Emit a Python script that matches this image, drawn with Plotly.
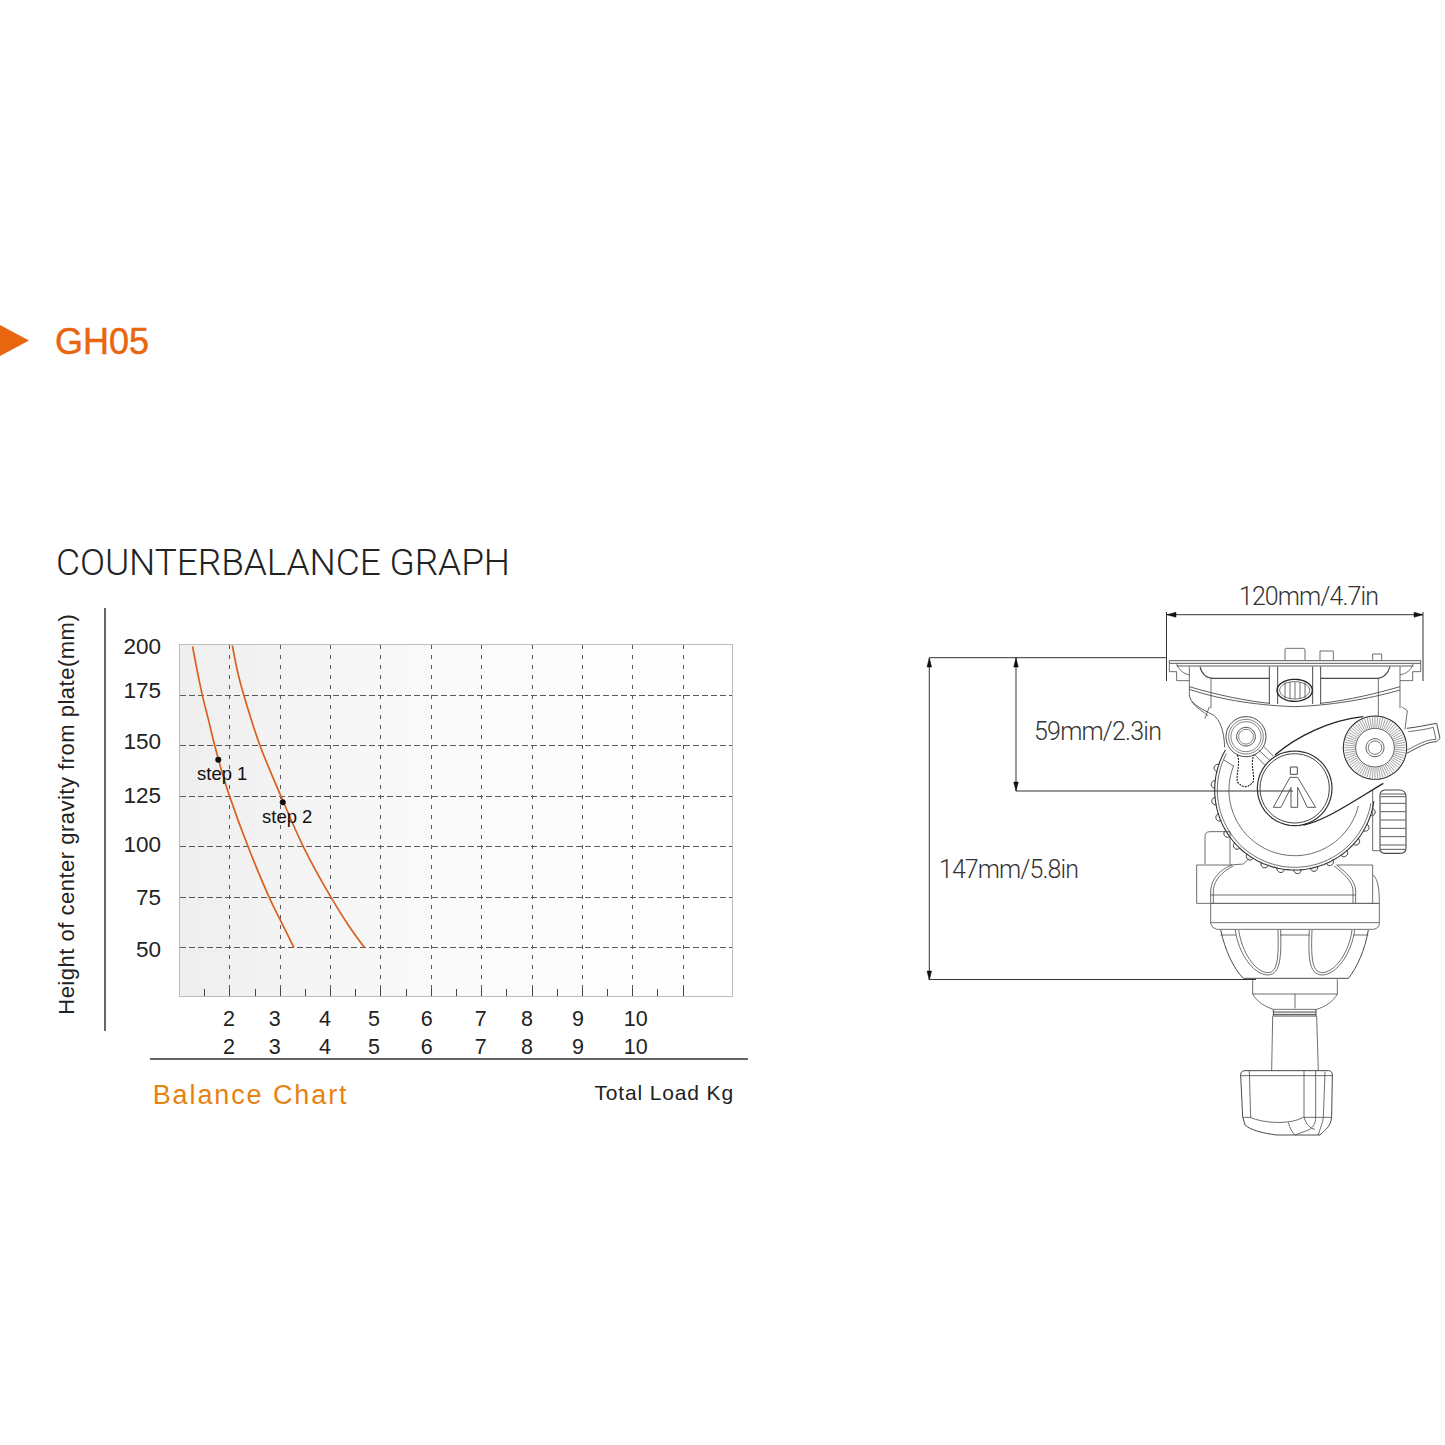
import math, re
import plotly.graph_objects as go

# ---------- chart data ----------
load_ticks = [2, 3, 4, 5, 6, 7, 8, 9, 10, 11]
load_half_ticks = [1.5, 2.5, 3.5, 4.5, 5.5, 6.5, 7.5, 8.5, 9.5, 10.5]
height_ticks = [50, 75, 100, 125, 150, 175]
load_label_pos = [1.98, 2.89, 3.89, 4.86, 5.91, 6.98, 7.90, 8.91, 10.06]
load_labels = ["2", "3", "4", "5", "6", "7", "8", "9", "10"]
height_label_pos = [199.5, 177.7, 152.5, 125.7, 101.5, 75.2, 49.5]
height_labels = ["200", "175", "150", "125", "100", "75", "50"]
step1_load = [1.26, 1.355, 1.46, 1.575, 1.70, 1.85, 1.99, 2.36, 2.79, 3.00, 3.27]
step1_height = [199.2, 186.8, 174.4, 162.9, 150.1, 136.5, 125.4, 100.2, 74.6, 63.9, 50.3]
step2_load = [2.05, 2.16, 2.28, 2.60, 3.01, 3.46, 4.00, 4.35, 4.67]
step2_height = [199.7, 186.0, 174.8, 150.1, 125.4, 100.1, 75.4, 61.4, 50.3]
point_load = [1.77, 3.05]
point_height = [143.2, 122.1]
shade_x = [1.0, 1.5, 2.0, 2.5, 3.0, 3.5, 4.0, 4.5, 5.0, 5.5, 6.0, 6.5, 7.0, 7.5, 8.0, 8.5, 9.0, 9.5, 10.0, 10.5, 11.0, 12.0]
shade_grey = [239, 240, 241, 243, 244, 245, 246, 247, 248, 249, 250, 250, 251, 251, 252, 252, 253, 253, 254, 254, 255, 255]

W = H = 1445
ORANGE = "#E8660F"
CURVE = "#D9601F"
LINE = "#4a4a4a"
SANS = "Liberation Sans"
LIGHT = "Roboto"

fig = go.Figure()
fig.add_trace(go.Scatter(x=step1_load, y=step1_height, mode="lines",
                         line=dict(color=CURVE, width=1.7, shape="spline"), showlegend=False))
fig.add_trace(go.Scatter(x=step2_load, y=step2_height, mode="lines",
                         line=dict(color=CURVE, width=1.7, shape="spline"), showlegend=False))
fig.add_trace(go.Scatter(x=point_load, y=point_height, mode="markers",
                         marker=dict(color="#111111", size=6), showlegend=False))
fig.add_trace(go.Scatter(x=load_label_pos, y=[50] * len(load_label_pos), mode="none",
                         xaxis="x3", yaxis="y3", showlegend=False))
fig.add_trace(go.Scatter(x=[0, W], y=[0, H], mode="none", xaxis="x2", yaxis="y2", showlegend=False))

x_range = [1.0, 11.97]
y_range = [26.24, 200.2]
x_dom = [179.5 / W, 732 / W]
y_dom = [1 - 996 / H, 1 - 644.5 / H]
GRID = "#5a5a5a"

layout_axes = dict(
    xaxis=dict(domain=x_dom, range=x_range, tickmode="array", tickvals=load_ticks, showticklabels=False,
               showgrid=True, gridcolor=GRID, griddash="4px,6px", gridwidth=1.4, zeroline=False,
               ticks="inside", ticklen=7, tickcolor="#444", showline=True, linecolor="#bdbdbd", mirror=True,
               minor=dict(tickmode="array", tickvals=load_half_ticks, ticks="inside", ticklen=7,
                          tickcolor="#444", showgrid=False)),
    yaxis=dict(domain=y_dom, range=y_range, tickmode="array", tickvals=height_ticks, showticklabels=False,
               showgrid=True, gridcolor=GRID, griddash="6px,3px", gridwidth=1.3, zeroline=False,
               ticks="", showline=True, linecolor="#bdbdbd", mirror=True),
    xaxis3=dict(domain=x_dom, range=x_range, overlaying="x", anchor="y3", tickmode="array",
                tickvals=load_label_pos,
                ticktext=[f"{t}<br>{t}" for t in load_labels],
                ticks="outside", ticklen=3, tickcolor="rgba(0,0,0,0)", showgrid=False, zeroline=False,
                tickfont=dict(family=SANS, size=21.5, color="#222222"), tickangle=0),
    yaxis3=dict(domain=y_dom, range=y_range, overlaying="y", anchor="x3", tickmode="array",
                tickvals=height_label_pos, ticktext=height_labels,
                ticks="outside", ticklen=13, tickcolor="rgba(0,0,0,0)", showgrid=False, zeroline=False,
                tickfont=dict(family=SANS, size=22.5, color="#222222")),
    xaxis2=dict(domain=[0, 1], range=[0, W], visible=False, fixedrange=True, anchor="y2"),
    yaxis2=dict(domain=[0, 1], range=[H, 0], visible=False, fixedrange=True, anchor="x2"),
)

# ---------- line drawing helpers (page pixels on the overlay axes) ----------
shapes = []

# plot background shading, below the grid
for i in range(len(shade_x) - 1):
    g = shade_grey[i]
    shapes.append(dict(type="rect", xref="x", yref="y", layer="below",
                       x0=shade_x[i], x1=shade_x[i + 1], y0=y_range[0], y1=y_range[1],
                       fillcolor=f"rgb({g},{g},{g})", line=dict(width=0)))


def pth(d, width=0.8, color=LINE, fill=None, dash=None):
    s = dict(type="path", path=d, xref="x2", yref="y2", layer="above", line=dict(color=color, width=width))
    if fill:
        s["fillcolor"] = fill
    if dash:
        s["line"]["dash"] = dash
    shapes.append(s)

def zoomed(ox, oy, d):
    """Convert a path written in 3x crop coordinates to page pixels."""
    out, i = [], 0
    for tok in d.split():
        if re.fullmatch(r"[A-Za-z]", tok):
            out.append(tok)
            i = 1 if tok == "V" else 0
        else:
            v = float(tok)
            out.append(f"{(ox if i % 2 == 0 else oy) + v / 3:.2f}")
            i += 1
    return " ".join(out)

def Z2(d, **k): pth(zoomed(1150, 640, d), **k)
def Z3(d, **k): pth(zoomed(1150, 880, d), **k)
def Z9(d, **k): pth(zoomed(1190, 840, d), **k)

def arc(cx, cy, r, a0, a1, n=48):
    pts = []
    for i in range(n + 1):
        a = math.radians(a0 + (a1 - a0) * i / n)
        pts.append((cx + r * math.cos(a), cy + r * math.sin(a)))
    return "M " + " L ".join(f"{x:.1f} {y:.1f}" for x, y in pts)

def Zarc(cx, cy, r, a0, a1, n=48, **k):
    pth(arc(1150 + cx / 3, 640 + cy / 3, r / 3, a0, a1, n), **k)

def Zcircle(cx, cy, r, **k):
    Zarc(cx, cy, r, 0, 360, **k)

def ellipse(cx, cy, rx, ry, **k):
    pts = [(cx + rx * math.cos(math.radians(a)), cy + ry * math.sin(math.radians(a))) for a in range(0, 361, 8)]
    Z2("M " + " L ".join(f"{x:.1f} {y:.1f}" for x, y in pts), **k)

# straight page-level rules
pth("M 105 608 L 105 1031", width=1.5, color="#333333")
pth("M 150 1059 L 748 1059", width=1.5, color="#333333")

# orange pointer
pth("M 0 325 L 29 340.5 L 0 356 Z", width=0, color=ORANGE, fill=ORANGE)

# dimension lines
DIM = "#333333"
for d in ["M 1166.5 614.7 L 1423 614.7", "M 1166.5 612 L 1166.5 681", "M 1423 612 L 1423 681",
          "M 929.3 657.7 L 1166.5 657.7", "M 929.3 657.7 L 929.3 980", "M 1016 657.7 L 1016 791",
          "M 1016 791 L 1293 791", "M 929.3 979.5 L 1256 979.5"]:
    pth(d, width=1, color=DIM)
for d in ["M 1167 614.7 L 1176 612.2 L 1176 617.2 Z", "M 1423 614.7 L 1414 612.2 L 1414 617.2 Z",
          "M 929.3 658 L 927 667 L 931.6 667 Z", "M 929.3 980 L 927 971 L 931.6 971 Z",
          "M 1016 658 L 1013.7 667 L 1018.3 667 Z", "M 1016 791 L 1013.7 782 L 1018.3 782 Z"]:
    pth(d, width=0.5, color="#111111", fill="#111111")

# --- top plate ---
Z2("M 58 62 L 812 62 L 812 70 L 58 70 Z", width=0.9)
Z2("M 80 78 L 790 78", width=0.9)
Z2("M 58 70 V 95 H 80 V 122 H 118")
Z2("M 812 70 V 95 H 788 V 122 H 750")
Z2("M 80 70 C 85 90 100 100 118 105")
Z2("M 790 70 C 785 90 770 100 750 105")
Z2("M 405 60 V 30 Q 405 25 410 25 H 460 Q 465 25 465 30 V 60")
Z2("M 510 60 V 33 H 550 V 60")
Z2("M 668 60 V 42 H 695 V 60")
# body and pockets
Z2("M 118 80 V 165")
Z2("M 750 80 V 205")
Z2("M 150 80 C 155 100 165 115 190 115 H 358", width=1.1)
Z2("M 720 80 C 715 100 700 115 680 115 H 512", width=1.1)
for x in [358, 383, 488, 512]:
    Z2(f"M {x} 80 V 192", width=1.0)
Z2("M 183 115 V 205")
Z2("M 685 115 V 228")
Z2("M 118 140 C 200 165 300 185 360 190", width=0.9)
Z2("M 512 190 C 600 180 680 160 750 140", width=0.9)
Z2("M 118 148 C 200 175 300 195 434 200 C 570 195 680 170 750 150", width=0.9)
# oval latch
ellipse(434, 151, 53, 33, width=1.3, color="#222222")
ellipse(434, 151, 45, 26)
for x in [405, 420, 435, 450, 465]:
    Z2(f"M {x} 127 V 176")
# shoulder
Z2("M 118 165 C 120 190 150 205 190 225 C 210 240 222 270 224 322", width=0.9)
Z2("M 125 185 C 140 205 160 215 175 228")
Z2("M 178 200 L 165 236")

# --- wheel ---
Zarc(434, 450, 240, 210, 8, n=90, width=1.1, color="#333333")
Zarc(434, 450, 232, 208, 10, n=90)
Zarc(434, 450, 197, 202, 14, n=80)
for ang in [172, 160, 147, 136, 124, 112, 100, 88, 76, 64, 52, 40, 28, 16, 184, 196]:
    a = math.radians(ang)
    cx, cy = 434 + 240 * math.cos(a), 450 + 240 * math.sin(a)
    Zarc(round(cx, 1), round(cy, 1), 11, ang - 100, ang + 100, n=14, width=1.0, color="#333333")
Z2("M 222 360 L 250 378", width=0.8)

# lock lever
for r, w in [(60, 1.0), (52, .7), (45, .7), (28, 1.0), (22, .7)]:
    Zcircle(288, 290, r, width=w)
Z2("M 262 345 C 272 370 258 400 262 425 Q 285 455 310 425 C 314 400 300 370 312 345",
   width=1.1, color="#222222", dash="2px,1px")
Z2("M 340 318 L 372 350")
Z2("M 326 330 L 360 362")
Z2("M 312 342 L 345 376")

# centre disc + logo
Zcircle(434, 445, 112, width=1.2, color="#333333")
Zcircle(434, 445, 104, width=1.0, color="#444444")
Z2("M 421 381 H 442 V 403 H 421 Z", width=1.0)
Z2("M 420 412 L 370 502 H 393 L 423 442 V 502 H 443 V 442 L 472 502 H 497 L 443 412 Z", width=0.9)

# pan bar
Z2("M 375 345 C 440 290 540 240 640 230", width=1.3, color="#222222")
Z2("M 460 555 C 520 545 600 490 700 430", width=1.3, color="#222222")

# rosette
Zcircle(675, 323, 95, width=1.1, color="#333333")
Zcircle(675, 323, 58, width=0.9)
Zcircle(675, 323, 27, width=0.9)
Zcircle(675, 323, 20, width=0.8)
rays = []
for i in range(0, 360, 5):
    a = math.radians(i)
    rays.append(f"M {675 + 60 * math.cos(a):.1f} {323 + 60 * math.sin(a):.1f} "
                f"L {675 + 92 * math.cos(a):.1f} {323 + 92 * math.sin(a):.1f}")
Z2(" ".join(rays), width=0.6, color="#666666")

# handle at right
Z2("M 770 265 C 800 262 830 255 860 250 L 870 295 L 860 305 C 830 305 800 325 770 340", width=1.0)
Z2("M 775 275 C 800 272 830 268 850 262 L 858 298 C 830 298 800 315 772 330")
Z2("M 755 200 L 772 212 L 765 268")

# side knob
Z2("M 705 450 H 750 Q 768 452 768 470 V 625 Q 768 640 750 640 H 705 Q 690 640 690 625 V 465 Q 690 452 705 450 Z", width=1.1)
for y in [462, 470, 490, 515, 540, 565, 590, 615, 628]:
    Z2(f"M 692 {y} H 766", width=0.9)
Z2("M 668 450 V 632 H 690")
# left block
Z2("M 165 672 V 590 Q 165 575 180 575 H 240 V 672")

# --- dome and collar (crop 9 coordinates) ---
Z9("M 20 75 H 125 M 440 75 H 548")
Z9("M 20 75 V 190 H 62")
Z9("M 548 75 V 190")
Z9("M 62 190 V 150 C 65 115 90 90 125 75")
Z9("M 70 190 V 150 C 73 118 97 95 130 78")
Z9("M 497 190 V 150 C 495 120 465 95 440 75")
Z9("M 489 190 V 150 C 487 123 458 98 432 78")
Z9("M 62 165 H 497")
Z9("M 62 190 H 568", width=1.0)
Z9("M 550 105 C 565 120 568 150 568 190")
Z9("M 62 190 V 250 Q 65 265 80 268 H 550 Q 568 265 568 250 V 190")
Z9("M 62 248 H 568")
Z9("M 120 75 L 160 72 L 178 55")
# bowl
Z9("M 92 270 C 105 330 130 385 160 415 H 475 C 500 385 525 330 535 270", width=1.0)
Z9("M 136 270 C 145 340 190 405 235 405 C 272 402 274 350 272 270")
Z9("M 146 270 C 155 335 195 398 235 398 C 264 396 266 350 264 270")
Z9("M 358 270 C 355 350 355 402 395 405 C 440 405 485 340 494 270")
Z9("M 366 270 C 363 350 365 396 395 398 C 436 398 478 335 486 270")
Z9("M 92 285 H 138 M 270 285 H 358 M 490 285 H 535")

# --- stem and knob (crop 3 coordinates) ---
Z3("M 308 298 V 342 C 320 365 345 380 370 388 H 500 C 525 380 550 365 562 342 V 298")
Z3("M 308 342 H 562")
Z3("M 435 342 V 385")
Z3("M 370 388 V 408 H 498 V 388", width=1.0)
Z3("M 370 396 H 498 M 370 403 H 498", width=1.0)
Z3("M 368 408 L 365 572")
Z3("M 500 408 L 505 572")
Z3("M 272 585 Q 272 572 285 572 H 535 Q 547 572 547 585 L 545 710 C 542 740 530 745 510 765 H 380 "
   "C 340 760 300 750 285 735 L 278 710 Z", width=1.0)
Z3("M 272 587 H 547")
Z3("M 278 712 H 300 C 340 730 420 735 460 712 H 545")
Z3("M 298 572 L 302 712")
Z3("M 462 572 V 712 C 470 735 480 745 495 748")
Z3("M 497 572 V 712 C 497 730 490 745 470 752 L 435 765")
Z3("M 525 575 L 520 712 C 518 730 510 745 505 765")
Z3("M 415 727 C 420 745 425 755 435 765")

# ---------- text ----------
def txt(s, x, y, size, color, family=SANS, angle=0, weight=None, ref="x2"):
    f = dict(family=family, size=size, color=color)
    if weight:
        f["weight"] = weight
    return dict(text=s, x=x, y=y, xref=ref, yref="y2" if ref == "x2" else "y", showarrow=False,
                xanchor="center", yanchor="middle", font=f, textangle=angle)

annotations = [
    txt("GH05", 101.5, 341, 36, ORANGE),
    txt("COUNTERBALANCE GRAPH", 282.5, 562, 37, "#222222", family=LIGHT, weight=300),
    txt("Height of center gravity from plate(mm)", 66, 815, 22, "#222222", angle=-90),
    txt("Balance Chart", 251, 1095, 27, "#E8820F"),
    txt("Total Load Kg", 664, 1092, 21, "#222222"),
    txt("120mm/4.7in", 1308.5, 596, 25, "#333333", family=LIGHT, weight=300),
    txt("59mm/2.3in", 1097.5, 731, 25, "#333333", family=LIGHT, weight=300),
    txt("147mm/5.8in", 1008.5, 869, 25, "#333333", family=LIGHT, weight=300),
    txt("step 1", 1.84, 136.6, 18.5, "#111111", ref="x"),
    txt("step 2", 3.14, 115.3, 18.5, "#111111", ref="x"),
]

fig.update_layout(
    width=W, height=H, margin=dict(l=0, r=0, t=0, b=0, autoexpand=False), autosize=False,
    paper_bgcolor="white", plot_bgcolor="rgba(0,0,0,0)", showlegend=False,
    shapes=shapes, annotations=annotations, **layout_axes)

spacing_js = """
document.body.style.margin='0';
var sp={'COUNTERBALANCE GRAPH':'-0.1px','120mm/4.7in':'-0.9px','59mm/2.3in':'-0.8px','147mm/5.8in':'-0.9px',
'Balance Chart':'1.9px','Total Load Kg':'0.85px','Height of center gravity from plate(mm)':'0.5px'};
document.querySelectorAll('.annotation-text').forEach(function(t){
  var v=sp[t.textContent]; if(v){t.style.letterSpacing=v;}
  if(t.textContent==='GH05'){t.style.stroke='#E8660F';t.style.strokeWidth='0.5px';}
});
"""
fig.write_html("out.html", post_script=spacing_js, config=dict(displayModeBar=False))
